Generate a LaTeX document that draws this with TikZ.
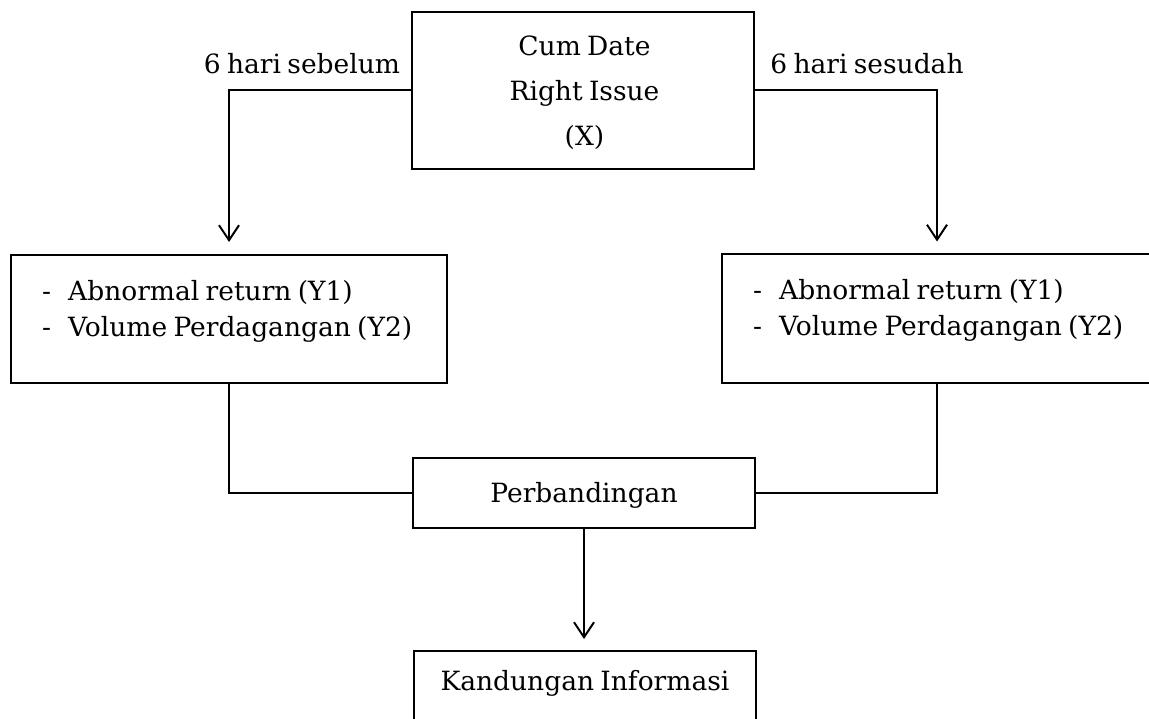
\documentclass[tikz,border=0pt]{standalone}
\usepackage{fontspec}
\setmainfont[WordSpace=0.75]{DejaVu Serif}
\usetikzlibrary{arrows.meta}
\begin{document}
\begin{tikzpicture}[x=1pt,y=-1pt,
  box/.style={draw,line width=2pt,rectangle,inner sep=0pt},
  txt/.style={inner sep=0pt,font=\fontsize{26.5}{30}\selectfont},
  conn/.style={line width=2pt},
  arr/.style={conn,-{Straight Barb[length=15pt,width=20pt,line width=2pt]},shorten >=12pt}]
\useasboundingbox (0,0) rectangle (1149,719);
% boxes
\node[box,minimum width=342pt,minimum height=157pt] (top) at (583,90.5) {};
\node[box,minimum width=436pt,minimum height=128pt] (lbox) at (229,319) {};
\node[box,minimum width=430pt,minimum height=128pt] (rbox) at (937,318.5) {};
\node[box,minimum width=342pt,minimum height=70pt] (pb) at (584,493) {};
\node[box,minimum width=342pt,minimum height=72pt] (kb) at (585,687) {};
% texts
\node[txt,anchor=base] (t1) at (584.5,55.7) {Cum Date};
\node[txt,anchor=base] (t2) at (584.5,100.7) {Right Issue};
\node[txt,anchor=base] (t3) at (584.5,145.5) {(X)};
\node[txt,anchor=base] (lsb) at (302,73.3) {6 hari sebelum};
\node[txt,anchor=base] (lsd) at (867,73.3) {6 hari sesudah};
\node[txt,anchor=base west] (ld1) at (42,301) {-};
\node[txt,anchor=base west] (l1) at (68,301) {Abnormal return (Y1)};
\node[txt,anchor=base west] (ld2) at (42,337) {-};
\node[txt,anchor=base west] (l2) at (68,337) {Volume Perdagangan (Y2)};
\node[txt,anchor=base west] (rd1) at (753,300) {-};
\node[txt,anchor=base west] (r1) at (779,300) {Abnormal return (Y1)};
\node[txt,anchor=base west] (rd2) at (753,336) {-};
\node[txt,anchor=base west] (r2) at (779,336) {Volume Perdagangan (Y2)};
\node[txt,anchor=base] (pbt) at (584,502.7) {Perbandingan};
\node[txt,anchor=base] (kbt) at (585,690) {Kandungan Informasi};
% connectors
\draw[arr] (top.west) -| (lbox.north);
\draw[arr] (top.east) -| (rbox.north);
\draw[conn] (lbox.south) |- (pb.west);
\draw[conn] (rbox.south) |- (pb.east);
\draw[arr,shorten >=11pt] (pb.south) -- (pb.south |- kb.north);
\end{tikzpicture}
\end{document}
